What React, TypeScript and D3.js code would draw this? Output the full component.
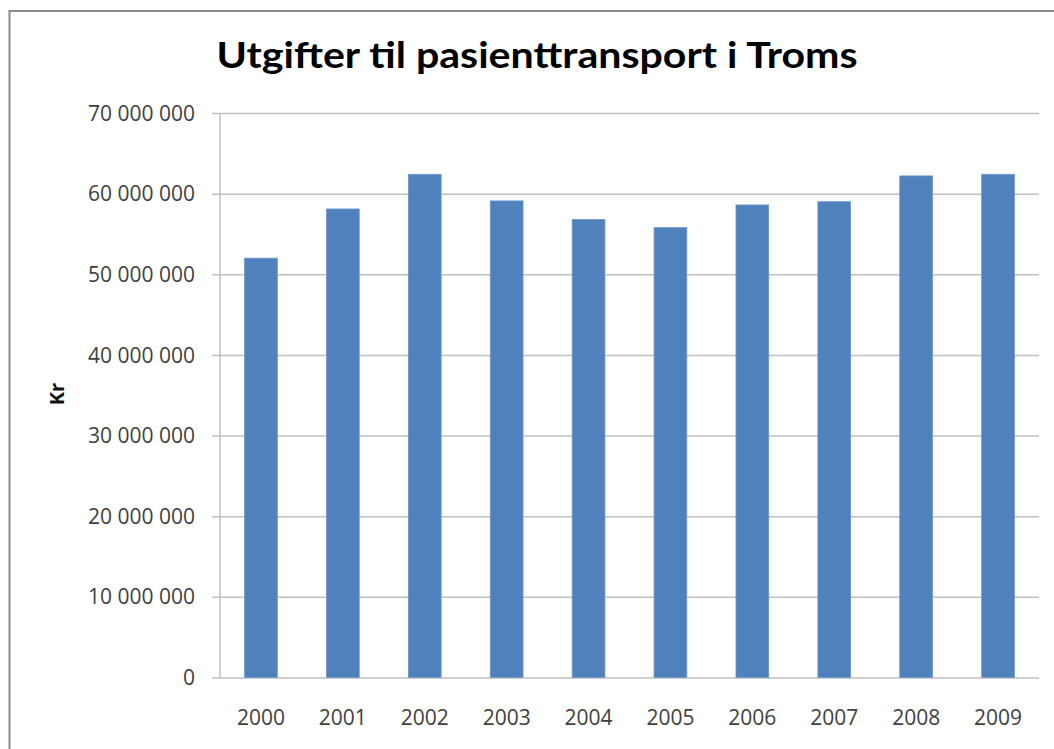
import React, { useEffect, useRef } from "react";
import * as d3 from "d3";

// values (kroner)
const years = ["2000", "2001", "2002", "2003", "2004", "2005", "2006", "2007", "2008", "2009"];
const expenses = [52000000, 58100000, 62400000, 59100000, 56800000, 55800000, 58600000, 59000000, 62200000, 62400000];
const yTicks = [0, 10000000, 20000000, 30000000, 40000000, 50000000, 60000000, 70000000];

const title = "Utgifter til pasienttransport i Troms";
const yLabel = "Kr";

const W = 1054;
const H = 749;

export default function App() {
  const ref = useRef<SVGSVGElement>(null);

  useEffect(() => {
    const svg = d3.select(ref.current);
    svg.selectAll("*").remove();

    const margin = { top: 113, right: 15, bottom: 71, left: 220 };
    const fontFamily = "'Open Sans', 'Liberation Sans', sans-serif";

    // chart frame (runs off the right and bottom of the picture)
    svg.append("rect")
      .attr("x", 9.5).attr("y", 11)
      .attr("width", 1200).attr("height", 900)
      .attr("fill", "white")
      .attr("stroke", "#8a8a8a")
      .attr("stroke-width", 2);

    const x = d3.scaleBand<string>()
      .domain(years)
      .range([margin.left, W - margin.right])
      .paddingInner(0.6)
      .paddingOuter(0.3);

    const y = d3.scaleLinear()
      .domain([0, 70000000])
      .range([H - margin.bottom - 0.5, margin.top]);

    const fmt = (v: number) => d3.format(",")(v).replace(/,/g, " ");

    // gridlines + y ticks
    const yAxis = svg.append("g")
      .attr("transform", `translate(${margin.left},0)`)
      .call(d3.axisLeft(y)
        .tickValues(yTicks)
        .tickSize(-(W - margin.right - margin.left))
        .tickFormat(d => fmt(+d)));
    yAxis.select(".domain").remove();
    yAxis.selectAll(".tick line")
      .attr("x1", -8)
      .attr("stroke", "#c0c0c0")
      .attr("stroke-width", 1.5);
    yAxis.selectAll(".tick text")
      .attr("x", -25)
      .attr("dy", "0.34em")
      .attr("fill", "#404040")
      .style("font-family", fontFamily)
      .style("font-size", "21px");

    // y axis line
    svg.append("line")
      .attr("x1", margin.left).attr("x2", margin.left)
      .attr("y1", y(70000000)).attr("y2", y(0))
      .attr("stroke", "#c0c0c0")
      .attr("stroke-width", 1.5);

    // bars
    svg.append("g")
      .selectAll("rect")
      .data(expenses)
      .join("rect")
      .attr("x", (d, i) => x(years[i])!)
      .attr("y", d => y(d))
      .attr("width", x.bandwidth())
      .attr("height", d => y(0) - y(d))
      .attr("fill", "#4f81bd")
      .attr("stroke", "#6f97c9")
      .attr("stroke-width", 0.8);

    // x labels
    const xAxis = svg.append("g")
      .attr("transform", `translate(0,${y(0)})`)
      .call(d3.axisBottom(x).tickSize(0).tickPadding(0));
    xAxis.select(".domain").remove();
    xAxis.selectAll(".tick text")
      .attr("y", 47)
      .attr("dy", 0)
      .attr("fill", "#404040")
      .style("font-family", fontFamily)
      .style("font-size", "21px");

    // y axis title
    svg.append("text")
      .attr("transform", "translate(64,394) rotate(-90)")
      .attr("text-anchor", "middle")
      .attr("fill", "#111")
      .style("font-family", fontFamily)
      .style("font-weight", "bold")
      .style("font-size", "20px")
      .text(yLabel);

    // title
    svg.append("text")
      .attr("x", 537)
      .attr("y", 68)
      .attr("text-anchor", "middle")
      .attr("textLength", 641)
      .attr("lengthAdjust", "spacingAndGlyphs")
      .attr("fill", "#000")
      .style("font-family", "Lato, 'Open Sans', sans-serif")
      .style("font-weight", "bold")
      .style("font-size", "37px")
      .text(title);
  }, []);

  return (
    <svg
      ref={ref}
      width={W}
      height={H}
      style={{ position: "absolute", left: 0, top: 0, background: "white" }}
    />
  );
}
